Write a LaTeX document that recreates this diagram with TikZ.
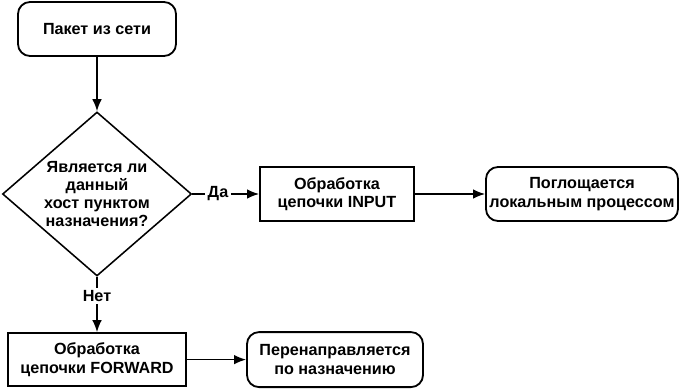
\documentclass[tikz,border=0pt]{standalone}
\usepackage{fontspec}
\setmainfont{Liberation Sans}
\usetikzlibrary{arrows.meta, shapes.geometric}

\begin{document}
\begin{tikzpicture}[>={Latex[length=3mm, width=2.4mm]},
    font=\fontsize{11.5}{13}\selectfont\bfseries,
    terminal/.style={draw, line width=1.3pt, rounded corners=0.3cm, align=center, inner sep=0},
    process/.style={draw, line width=1.3pt, align=center, inner sep=0},
    decision/.style={draw, line width=1.1pt, diamond, inner sep=0},
    flow/.style={line width=1.1pt}]
  \useasboundingbox (0,0) rectangle (17,9.75);
  % nodes
  \node[terminal, minimum width=3.95cm, minimum height=1.35cm] (start) at (2.425, 9.025) {Пакет из сети};
  \node[decision, minimum width=4.725cm, minimum height=4.1cm] (check) at (2.425, 4.9) {};
  \node[align=center] (checktext) at (check.center) {Является ли\\данный\\хост пунктом\\назначения?};
  \node[process, minimum width=3.85cm, minimum height=1.35cm] (input) at (8.425, 4.9) {Обработка\\цепочки INPUT};
  \node[terminal, minimum width=4.8cm, minimum height=1.35cm] (local) at (14.55, 4.9) {Поглощается\\локальным процессом};
  \node[process, minimum width=4.45cm, minimum height=1.325cm] (forward) at (2.425, 0.76) {Обработка\\цепочки FORWARD};
  \node[terminal, minimum width=4.4cm, minimum height=1.375cm] (redirect) at (8.375, 0.76) {Перенаправляется\\по назначению};
  % labels
  \node[inner sep=0.06cm] (yes) at (5.45, 4.9) {Да};
  \node[inner sep=0.06cm] (no) at (2.425, 2.35) {Нет};
  % connectors
  \draw[flow, ->] (start) -- (check.north);
  \draw[flow] (check.east) -- (yes.west);
  \draw[flow, ->] (yes.east) -- (input.west);
  \draw[flow, ->] (input.east) -- (local.west);
  \draw[flow] (check.south) -- (no.north);
  \draw[flow, ->] (no.south) -- (forward.north);
  \draw[flow, ->] (forward.east) -- (redirect.west);
\end{tikzpicture}
\end{document}
